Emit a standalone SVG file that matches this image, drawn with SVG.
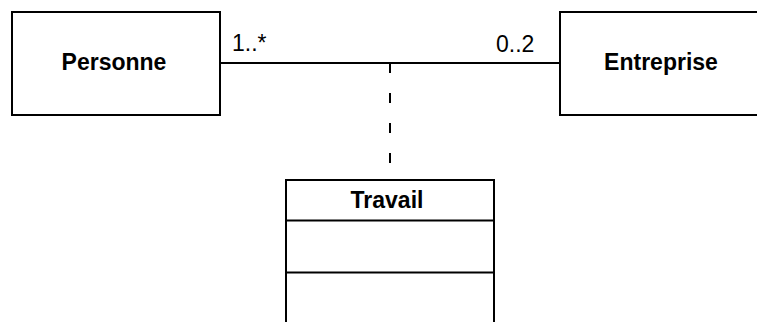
<svg xmlns="http://www.w3.org/2000/svg" width="757" height="322" viewBox="0 0 757 322">
<style>
.box{fill:#fff;stroke:#000;stroke-width:2}
.ln{stroke:#000;stroke-width:2;fill:none}
.t{font-family:"Liberation Sans",Arial,sans-serif;font-size:23px;fill:#000}
.b{font-weight:bold}
</style>
<rect width="757" height="322" fill="#fff"/>
<g id="connectors">
<line class="ln" x1="220" y1="63" x2="560" y2="63"/>
<line class="ln" x1="390" y1="63" x2="390" y2="180" stroke-dasharray="10,20"/>
<text class="t" x="232" y="50.5">1..*</text>
<text class="t" x="496" y="51.5">0..2</text>
</g>
<g id="personne">
<rect class="box" x="12" y="12" width="208" height="103"/>
<text class="t b" x="114" y="70" text-anchor="middle">Personne</text>
</g>
<g id="entreprise">
<rect class="box" x="560" y="12" width="200" height="103"/>
<text class="t b" x="661" y="70" text-anchor="middle">Entreprise</text>
</g>
<g id="travail">
<rect class="box" x="286" y="180" width="208" height="150"/>
<line class="ln" x1="286" y1="220.5" x2="494" y2="220.5"/>
<line class="ln" x1="286" y1="272.5" x2="494" y2="272.5"/>
<text class="t b" x="387" y="208" text-anchor="middle">Travail</text>
</g>
</svg>
